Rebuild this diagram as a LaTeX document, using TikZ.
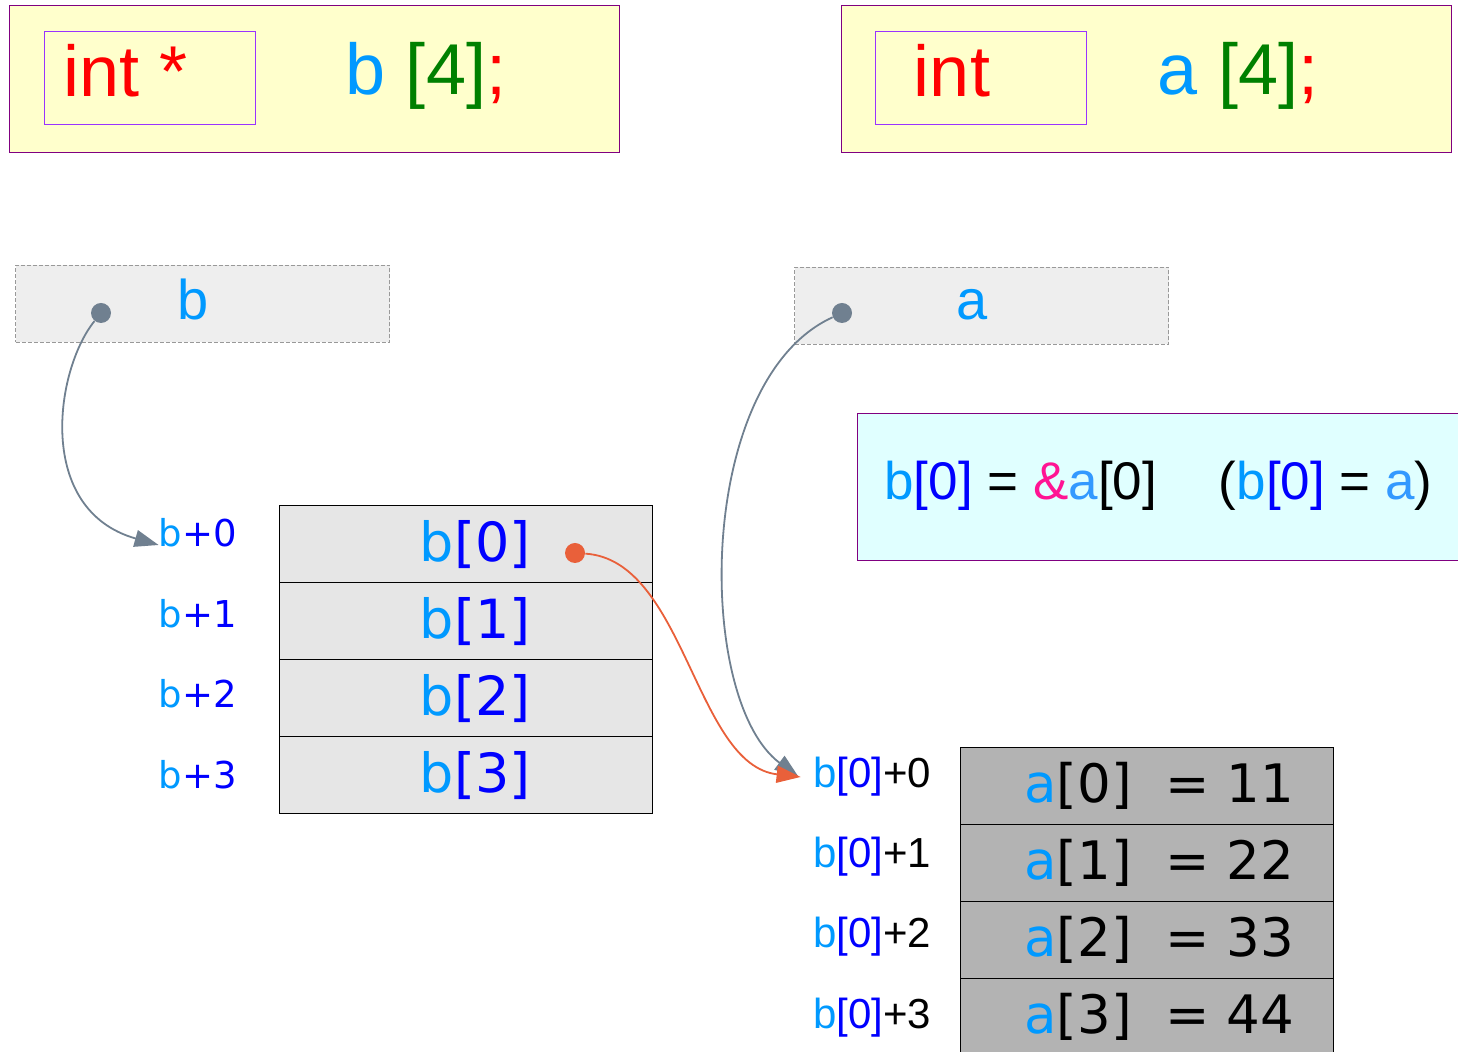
\documentclass[tikz,border=0pt]{standalone}
\usepackage{fontspec}
\setmainfont{Liberation Sans}
\newfontfamily\dvs{DejaVu Sans}
\usetikzlibrary{arrows.meta}

\definecolor{declfill}{HTML}{FFFFCC}
\definecolor{declline}{HTML}{800080}
\definecolor{typeline}{HTML}{9933FF}
\definecolor{ptrfill}{HTML}{EEEEEE}
\definecolor{ptrline}{HTML}{999999}
\definecolor{notefill}{HTML}{E0FFFF}
\definecolor{bcellfill}{HTML}{E6E6E6}
\definecolor{acellfill}{HTML}{B3B3B3}
\definecolor{lblue}{HTML}{0099FF}
\definecolor{dblue}{HTML}{0000FF}
\definecolor{kgreen}{HTML}{008000}
\definecolor{ampink}{HTML}{FF1493}
\definecolor{ablue}{HTML}{3399FF}
\definecolor{slate}{HTML}{708090}
\definecolor{dotorange}{HTML}{E9603A}

\begin{document}
\begin{tikzpicture}[x=0.5pt,y=-0.5pt,
	declbox/.style={draw=declline,fill=declfill,line width=0.6pt,minimum width=305pt,minimum height=73.5pt,anchor=north west,inner sep=0},
	typebox/.style={draw=typeline,line width=0.5pt,minimum width=105.5pt,minimum height=46.5pt,anchor=north west,inner sep=0},
	ptrbox/.style={draw=ptrline,fill=ptrfill,dash pattern=on 2pt off 1pt,line width=0.5pt,minimum width=187pt,minimum height=38.5pt,anchor=north west,inner sep=0},
	bcell/.style={draw=black,fill=bcellfill,line width=0.7pt,minimum width=186.5pt,minimum height=38.5pt,anchor=north west,inner sep=0,font=\dvs\fontsize{27}{30}\selectfont},
	acell/.style={bcell,fill=acellfill,font=\dvs\fontsize{26.5}{30}\selectfont},
	bofs/.style={inner sep=1pt,font=\dvs\fontsize{18.5}{22}\selectfont},
	aofs/.style={inner sep=1pt,font=\fontsize{21}{24}\selectfont},
	dot/.style={circle,inner sep=0,minimum size=10pt},
	ptrarrow/.style={draw=slate,line width=0.9pt,-{Triangle[length=12pt,width=8.5pt]}}]
	\useasboundingbox (0,0) rectangle (1458,1052);
	
	% declarations
	\node[declbox] (declb) at (9,5) {};
	\node[declbox] (decla) at (841,5) {};
	\node[typebox] (typeb) at (44,31) {};
	\node[typebox] (typea) at (875,31) {};
	\node[red,font=\fontsize{36}{40}\selectfont] (typebtxt) at (126,71) {int *};
	\node[red,font=\fontsize{36}{40}\selectfont] (typeatxt) at (952,71) {int};
	\node[font=\fontsize{36}{40}\selectfont] (nameb) at (426,76)
		{{\color{lblue}b} {\color{kgreen}[4]}{\color{red};}};
	\node[font=\fontsize{36}{40}\selectfont] (namea) at (1238,76)
		{{\color{lblue}a} {\color{kgreen}[4]}{\color{red};}};
	
	% pointer boxes
	\node[ptrbox] (ptrb) at (15,265) {};
	\node[ptrbox] (ptra) at (794,267) {};
	\node[lblue,font=\fontsize{28}{30}\selectfont] at (193,299) {b};
	\node[lblue,font=\fontsize{28}{30}\selectfont] at (972,305) {a};
	
	% note
	\node[draw=declline,fill=notefill,line width=0.6pt,minimum width=306.5pt,minimum height=73.5pt,anchor=north west,inner sep=0] (note) at (857,413) {};
	\node[anchor=west,inner sep=0,font=\fontsize{26.5}{30}\selectfont] (notetxt) at (884,486)
		{{\color{lblue}b}{\color{dblue}[0]} = {\color{ampink}\&}{\color{ablue}a}[0]\hspace{31pt}({\color{lblue}b}{\color{dblue}[0]} = {\color{ablue}a})};
	
	% array b
	\foreach \i/\y in {0/505, 1/582, 2/659, 3/736}{
		\node[bcell] (b\i) at (279,\y) {\hspace*{9pt}{\color{lblue}b}{\color{dblue}[\i]}};
	}
	\foreach \i/\y in {0/533, 1/614, 2/694, 3/775}{
		\node[bofs] (bl\i) at (198,\y) {{\color{lblue}b}{\color{dblue}+\i}};
	}
	
	% array a
	\foreach \i/\y/\v in {0/747/11, 1/824/22, 2/901/33, 3/978/44}{
		\node[acell] (a\i) at (960,\y) {\hspace*{12pt}{\color{lblue}a}[\i]\ \ = \v};
	}
	\foreach \i/\y in {0/777, 1/857, 2/937, 3/1018}{
		\node[aofs] (al\i) at (872,\y) {{\color{lblue}b}{\color{dblue}[0]}+\i};
	}
	
	% pointers
	\node[dot,fill=slate] (bdot) at (101,313) {};
	\node[dot,fill=slate] (adot) at (842,313) {};
	\node[dot,fill=dotorange] (b0dot) at (575,553) {};
	\draw[ptrarrow] (bdot) .. controls (55,370) and (35,510) .. ([yshift=-6pt,xshift=1pt]bl0.west);
	\draw[ptrarrow] (adot) .. controls (695,380) and (695,700) .. ([xshift=-6pt]al0.west);
	\draw[ptrarrow,draw=dotorange] (b0dot) .. controls (685,560) and (695,765) .. ([xshift=-5pt]al0.west);
\end{tikzpicture}
\end{document}
